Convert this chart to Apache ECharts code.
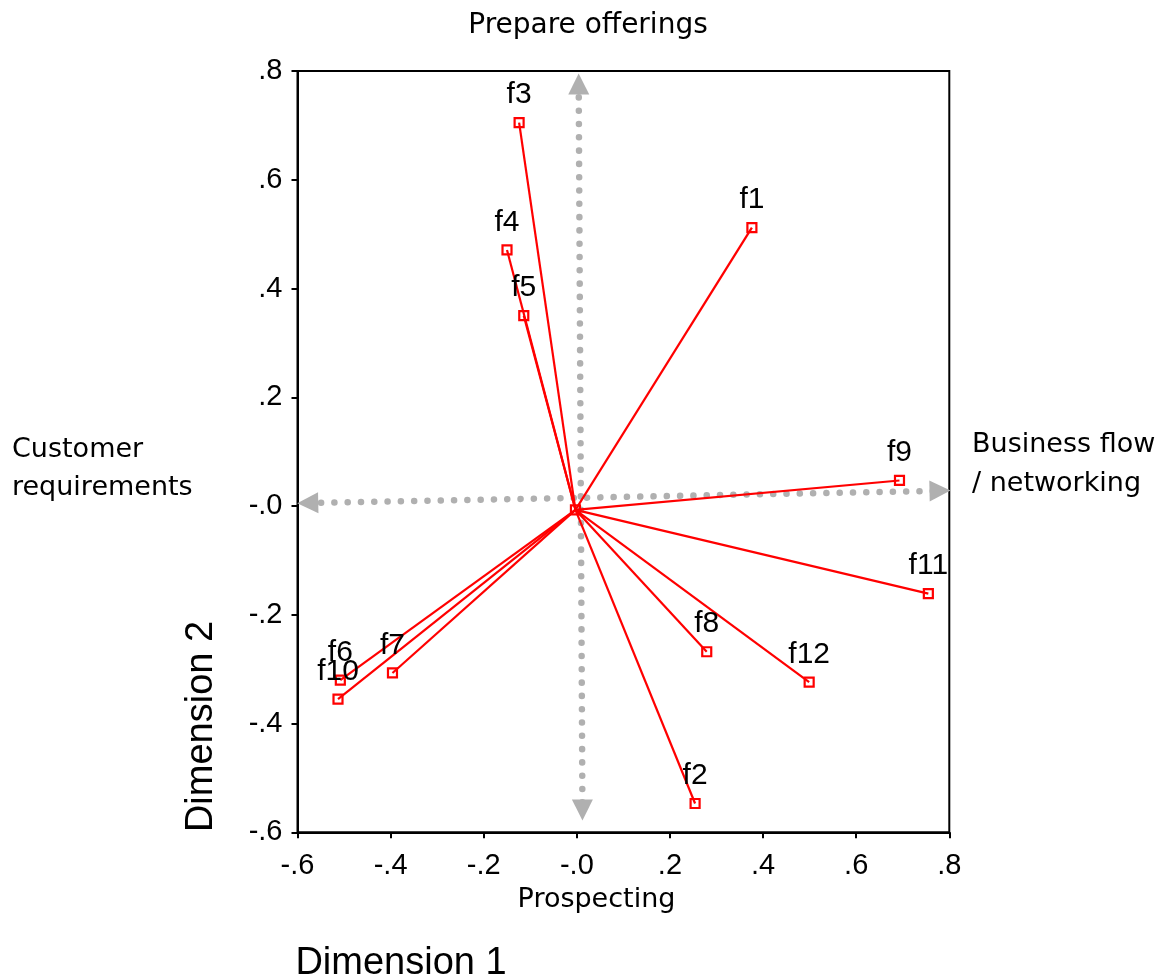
<!DOCTYPE html>
<html style="height: 100%">
<head>
    <meta charset="utf-8">
    <title>Dimension plot</title>
    <script src="https://cdn.jsdelivr.net/npm/echarts@6/dist/echarts.min.js"></script>
</head>
<body style="height: 100%; margin: 0; background: #fff">
<div id="container" style="width: 1171px; height: 980px"></div>
<script type="text/javascript">
    // item labels and their coordinates on the two dimensions
    var items = ['f1', 'f2', 'f3', 'f4', 'f5', 'f6', 'f7', 'f8', 'f9', 'f10', 'f11', 'f12'];
    var dim1 = [0.376, 0.254, -0.124, -0.150, -0.114, -0.508, -0.396, 0.279, 0.693, -0.513, 0.755, 0.499];
    var dim2 = [0.512, -0.547, 0.705, 0.471, 0.350, -0.320, -0.307, -0.268, 0.047, -0.355, -0.161, -0.324];
    var origin = [-0.003, -0.007];

    // dotted reference axes (end points, at the middle of the arrow heads)
    var vertAxis = [[0.004, 0.776], [0.012, -0.559]];
    var horizAxis = [[-0.578, 0.0055], [0.780, 0.028]];

    var tickLabels = ['-.6', '-.4', '-.2', '-.0', '.2', '.4', '.6', '.8'];

    var dom = document.getElementById("container");
    var myChart = echarts.init(dom);

    var points = [];
    var vectors = [];
    for (var i = 0; i < items.length; i++) {
        points.push({name: items[i], value: [dim1[i], dim2[i]]});
        vectors.push({coords: [origin, [dim1[i], dim2[i]]]});
    }

    function tickFmt(v) {
        return tickLabels[Math.round((v + 0.6) / 0.2)];
    }

    function makeAxis(labelMargin) {
        return {
            type: 'value',
            min: -0.6,
            max: 0.8,
            interval: 0.2,
            splitLine: {show: false},
            axisLine: {show: true, onZero: false, lineStyle: {color: '#000', width: 2}},
            axisTick: {show: true, length: 6, lineStyle: {color: '#000', width: 2}},
            axisLabel: {
                color: '#000', fontFamily: 'Liberation Sans', fontSize: 29,
                margin: labelMargin, formatter: tickFmt
            }
        };
    }

    var textFont = '"DejaVu Sans"';

    option = {
        animation: false,
        backgroundColor: '#fff',
        grid: {
            left: 297.5, right: 221.7, top: 71, bottom: 147.7,
            show: true, borderColor: '#000', borderWidth: 2, backgroundColor: 'transparent'
        },
        xAxis: makeAxis(19),
        yAxis: makeAxis(15),
        graphic: [
            {type: 'text', style: {text: 'Prepare offerings', x: 588, y: 26, align: 'center', verticalAlign: 'middle', font: '28px ' + textFont, fill: '#000'}},
            {type: 'text', style: {text: 'Customer', x: 12, y: 449.5, align: 'left', verticalAlign: 'middle', font: '27px ' + textFont, fill: '#000'}},
            {type: 'text', style: {text: 'requirements', x: 12, y: 488, align: 'left', verticalAlign: 'middle', font: '27px ' + textFont, fill: '#000'}},
            {type: 'text', style: {text: 'Business flow', x: 972, y: 445, align: 'left', verticalAlign: 'middle', font: '27px ' + textFont, fill: '#000'}},
            {type: 'text', style: {text: '/ networking', x: 972, y: 484, align: 'left', verticalAlign: 'middle', font: '27px ' + textFont, fill: '#000'}},
            {type: 'text', style: {text: 'Prospecting', x: 596.5, y: 900, align: 'center', verticalAlign: 'middle', font: '27px ' + textFont, fill: '#000'}},
            {type: 'text', style: {text: 'Dimension 1', x: 401, y: 964, align: 'center', verticalAlign: 'middle', font: '38px "Liberation Sans"', fill: '#000'}},
            {type: 'text', x: 201.5, y: 726.5, rotation: Math.PI / 2, style: {text: 'Dimension 2', x: 0, y: 0, align: 'center', verticalAlign: 'middle', font: '38px "Liberation Sans"', fill: '#000'}}
        ],
        series: [
            {
                type: 'lines',
                coordinateSystem: 'cartesian2d',
                symbol: ['triangle', 'triangle'],
                symbolSize: 21,
                silent: true,
                z: 1,
                lineStyle: {color: '#b0b0b0', width: 6.5, type: [0.1, 13.2], cap: 'round', opacity: 1},
                data: [{coords: vertAxis}, {coords: horizAxis}]
            },
            {
                type: 'lines',
                coordinateSystem: 'cartesian2d',
                symbol: 'none',
                silent: true,
                z: 2,
                lineStyle: {color: '#ff0000', width: 2.2, opacity: 1},
                data: vectors
            },
            {
                type: 'scatter',
                symbol: 'rect',
                symbolSize: 9,
                z: 3,
                itemStyle: {color: 'rgba(0,0,0,0)', borderColor: '#ff0000', borderWidth: 2.2, opacity: 1},
                label: {
                    show: true, position: 'top', distance: 7,
                    formatter: '{b}', color: '#000', fontFamily: 'Liberation Sans', fontSize: 30
                },
                data: points
            },
            {
                type: 'scatter',
                symbol: 'rect',
                symbolSize: 9,
                z: 3,
                itemStyle: {color: 'rgba(0,0,0,0)', borderColor: '#ff0000', borderWidth: 2.2, opacity: 1},
                data: [origin]
            }
        ]
    };

    if (option && typeof option === "object") {
        myChart.setOption(option, true);
    }
</script>
</body>
</html>
